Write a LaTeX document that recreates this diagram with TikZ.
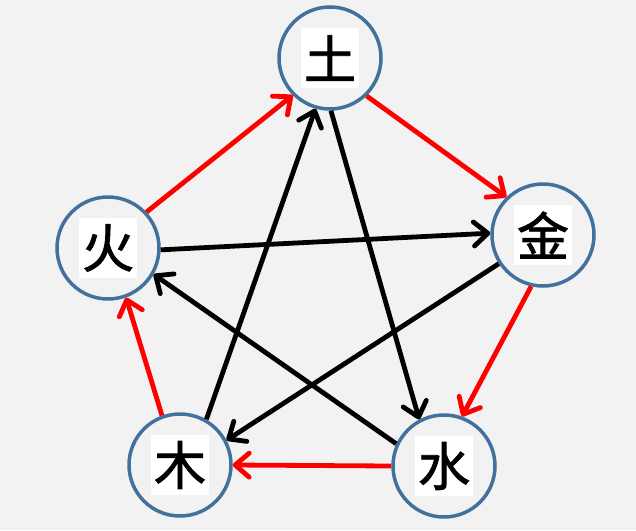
\documentclass[tikz,border=0pt]{standalone}
\usepackage{fontspec}
\newfontfamily\cjk[FakeBold=1.6]{Noto Sans CJK SC}
\usetikzlibrary{arrows.meta}
\definecolor{Steel}{HTML}{41719C}
\definecolor{Paper}{HTML}{F2F2F2}

\begin{document}
\begin{tikzpicture}[x=1pt,y=-1pt,
    elem/.style={circle,draw=Steel,line width=3.5pt,fill=Paper,minimum size=102pt,inner sep=0pt},
    glyph/.style={fill=white,minimum width=58pt,minimum height=60pt,inner sep=0pt,
      font=\cjk\fontsize{52}{52}\selectfont},
    sheng/.style={red,line width=4.8pt,-{Straight Barb[round,length=14pt,width=24pt]}},
    ke/.style={black,line width=4.8pt,-{Straight Barb[round,length=14pt,width=24pt]}}]
    \fill[Paper] (0,0) rectangle (636,530);
    \useasboundingbox (0,0) rectangle (636,530);
    \foreach \name/\x/\y/\txt in {tu/330/58/土,jin/543/235/金,shui/444/466/水,mu/180/465/木,huo/108/248/火}{
      \node[elem] (\name) at (\x,\y) {};
      \node[glyph] (\name-t) at (\x,\y) {\txt};
    }
    % sheng cycle
    \draw[sheng] (huo.43) -- (tu.225);
    \draw[sheng] (tu.-46) -- (jin.134);
    \draw[sheng] (jin.-103) -- (shui.70);
    \draw[sheng] (shui.180) -- (mu.0);
    \draw[sheng] (mu.110) -- (huo.-70);
    % ke cycle
    \draw[ke] (mu.60) -- (tu.-106);
    \draw[ke] (tu.-89) -- (shui.118);
    \draw[ke] (shui.155) -- (huo.-30);
    \draw[ke] (huo.-2) -- (jin.178);
    \draw[ke] (jin.-147) -- (mu.28);
  \end{tikzpicture}
\end{document}
